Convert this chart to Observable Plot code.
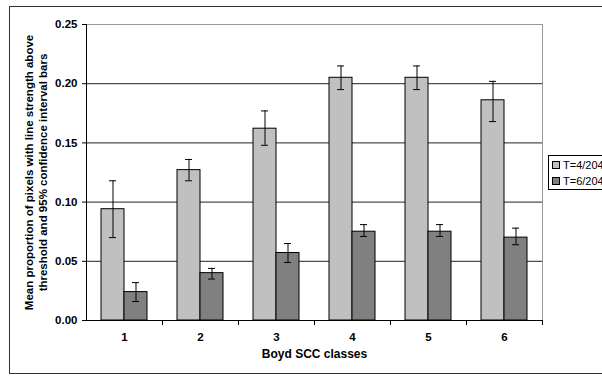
<!DOCTYPE html>
<html>
<head>
<meta charset="utf-8">
<script src="https://cdn.jsdelivr.net/npm/d3@7"></script>
<script src="https://cdn.jsdelivr.net/npm/@observablehq/plot@0.6"></script>
<style>
  html, body { margin: 0; padding: 0; background: #fff; overflow: hidden; }
  #wrap { position: relative; width: 602px; height: 376px; overflow: hidden; font-family: Arial, "Liberation Sans", sans-serif; }
  #outer { position: absolute; left: 9px; top: 6px; width: 640px; height: 366px; border: 1.5px solid #333; }
  #legend { position: absolute; left: 548px; top: 155px; width: 80px; height: 33px; border: 1px solid #000; background: #fff; font-size: 11px; }
  .row { position: absolute; left: 3px; height: 14px; line-height: 14px; white-space: nowrap; }
  .sw { display: inline-block; width: 6px; height: 6px; border: 1px solid #000; margin-right: 3px; vertical-align: 0px; }
  #chart { position: absolute; left: 0; top: 0; }
</style>
</head>
<body>
<div id="wrap">
  <div id="outer"></div>
  <div id="chart"></div>
  <div id="legend"></div>
</div>
<script>
const classes = ["1", "2", "3", "4", "5", "6"];
const series = ["T=4/204", "T=6/204"];
const seriesColors = ["#c0c0c0", "#808080"];
const meanA = [0.094, 0.127, 0.162, 0.205, 0.205, 0.186];
const lowA  = [0.070, 0.118, 0.148, 0.195, 0.195, 0.168];
const highA = [0.118, 0.136, 0.177, 0.215, 0.215, 0.202];
const meanB = [0.024, 0.040, 0.057, 0.075, 0.075, 0.070];
const lowB  = [0.016, 0.035, 0.049, 0.071, 0.071, 0.064];
const highB = [0.032, 0.044, 0.065, 0.081, 0.081, 0.078];
const yTicks = [0, 0.05, 0.10, 0.15, 0.20, 0.25];
const xTitle = "Boyd SCC classes";
const yTitle = "Mean proportion of pixels with line strength above\nthreshold and 95% confidence interval bars";

const rowsA = classes.map((c, i) => ({cls: c, series: series[0], mean: meanA[i], low: lowA[i], high: highA[i]}));
const rowsB = classes.map((c, i) => ({cls: c, series: series[1], mean: meanB[i], low: lowB[i], high: highB[i]}));

const chart = Plot.plot({
  width: 602,
  height: 376,
  marginLeft: 86,
  marginRight: 60,
  marginTop: 24,
  marginBottom: 56,
  style: {fontFamily: 'Arial, "Liberation Sans", sans-serif', fontSize: "11.5px", background: "transparent", color: "#000"},
  x: {domain: classes, padding: 0, axis: null},
  y: {domain: [0, 0.25], axis: null},
  color: {domain: series, range: seriesColors},
  marks: [
    Plot.frame({stroke: "#999"}),
    Plot.ruleY(yTicks.filter(v => v > 0 && v < 0.25), {stroke: "#222"}),
    Plot.barY(rowsA, {x: "cls", y: "mean", fill: "series", stroke: "#000", strokeWidth: 1, insetLeft: 15, insetRight: 38}),
    Plot.barY(rowsB, {x: "cls", y: "mean", fill: "series", stroke: "#000", strokeWidth: 1, insetLeft: 38, insetRight: 15}),
    Plot.ruleX(rowsA, {x: "cls", y1: "low", y2: "high", dx: -11.5, stroke: "#000"}),
    Plot.ruleX(rowsB, {x: "cls", y1: "low", y2: "high", dx: 11.5, stroke: "#000"}),
    Plot.tickY(rowsA, {x: "cls", y: "low", insetLeft: 23, insetRight: 46, stroke: "#000"}),
    Plot.tickY(rowsA, {x: "cls", y: "high", insetLeft: 23, insetRight: 46, stroke: "#000"}),
    Plot.tickY(rowsB, {x: "cls", y: "low", insetLeft: 46, insetRight: 23, stroke: "#000"}),
    Plot.tickY(rowsB, {x: "cls", y: "high", insetLeft: 46, insetRight: 23, stroke: "#000"}),
    Plot.ruleY([0], {stroke: "#000"}),
    Plot.ruleX([classes[0]], {dx: -38, stroke: "#000"}),
    Plot.axisY({ticks: yTicks, tickFormat: d3.format(".2f"), tickSize: 4, tickPadding: 5, fontWeight: "bold", label: null}),
    Plot.axisX({ticks: classes, tickFormat: () => "", tickSize: 5, dx: 38, label: null}),
    Plot.axisX({ticks: classes, tickSize: 0, tickPadding: 12, fontWeight: "bold", label: null}),
    Plot.text([xTitle], {frameAnchor: "bottom", text: d => d, dy: 37, fontWeight: "bold", fontSize: 12}),
    Plot.text([yTitle], {frameAnchor: "left", text: d => d, textAnchor: "middle", lineAnchor: "middle", dx: -51, rotate: -90, fontWeight: "bold", fontSize: 11.5, lineHeight: 1.25})
  ]
});
document.getElementById("chart").appendChild(chart);

const legend = document.getElementById("legend");
series.forEach((s, i) => {
  const r = document.createElement("div");
  r.className = "row";
  r.style.top = (2 + i * 16) + "px";
  const sw = document.createElement("span");
  sw.className = "sw";
  sw.style.background = seriesColors[i];
  r.appendChild(sw);
  r.appendChild(document.createTextNode(s));
  legend.appendChild(r);
});
</script>
</body>
</html>
